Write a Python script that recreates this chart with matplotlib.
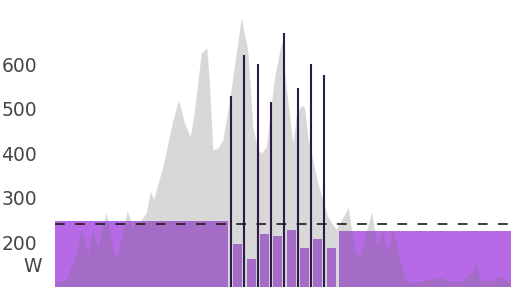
import matplotlib
matplotlib.use("Agg")
import matplotlib.pyplot as plt

plt.rcParams['font.family'] = ['DejaVu Sans']
plt.rcParams['lines.scale_dashes'] = False

# power trace (minutes, watts)
t = [0.00, 1.54, 2.86, 3.51, 4.38, 5.04, 5.70, 6.80, 7.89, 8.29, 9.57, 10.30,
     11.41, 12.07, 12.63, 13.03, 14.25, 15.57, 16.32, 17.11, 17.86, 18.42,
     19.30, 20.04, 20.39, 20.83, 21.49, 22.14, 23.03, 23.91, 24.57, 25.43,
     26.10, 26.75, 27.20, 27.86, 28.29, 28.95, 29.91, 30.49, 31.36, 31.80,
     32.46, 32.89, 33.33, 33.99, 34.64, 35.30, 35.96, 36.41, 37.07, 38.64,
     39.61, 40.26, 41.71, 42.46, 43.25, 43.68, 44.57, 45.30, 46.18, 47.50,
     49.25, 50.57, 51.88, 53.64, 54.96, 55.49, 55.92, 57.14, 58.68, 59.78, 60.00]
watts = [108, 115, 175, 227, 171, 227, 189, 265, 171, 171, 269, 234,
         249, 265, 314, 294, 368, 473, 518, 466, 435, 495,
         623, 636, 556, 406, 410, 428, 518, 623, 701, 630,
         457, 406, 399, 413, 473, 569, 652, 547, 421, 480,
         506, 502, 435, 383, 332, 294, 256, 243, 227, 276,
         171, 171, 267, 189, 227, 175, 227, 166, 111, 108,
         115, 120, 111, 111, 131, 155, 115, 111, 122, 109, 110]

# warm-up and cool-down blocks
warmup = (0.0, 22.76, 248)
cooldown = (37.37, 60.0, 225)

# intervals: start, average, peak
iv_start = [23.16, 24.91, 26.67, 28.42, 30.17, 31.93, 33.68, 35.43]
iv_avg = [196, 161, 219, 214, 228, 186, 206, 187]
iv_peak = [529, 620, 600, 515, 670, 546, 600, 575]

ftp = 240
yticks = [200, 300, 400, 500, 600]

fig = plt.figure(figsize=(5.12, 2.97), dpi=100)
ax = fig.add_axes([55 / 512, 10.5 / 297, 456 / 512, 286.5 / 297])

purple = '#b76ae6'
ax.bar(warmup[0], warmup[2], width=warmup[1] - warmup[0], align='edge',
       color=purple, zorder=1)
ax.bar(cooldown[0], cooldown[2], width=cooldown[1] - cooldown[0], align='edge',
       color=purple, zorder=1)
ax.bar([s + 0.3 for s in iv_start], iv_avg, width=1.18, align='edge',
       color=purple, zorder=1)

ax.fill_between(t, 0, watts, color='#747474', alpha=0.28, linewidth=0, zorder=2)

ax.vlines(iv_start, 0, iv_peak, color='#2e1a47', linewidth=1.5, zorder=3)
ax.axhline(ftp, color='#1a1a1a', linewidth=1.2, dashes=(7, 7.5), zorder=4)

ax.set_xlim(0, 60)
ax.set_ylim(100, 744)
for s in ax.spines.values():
    s.set_visible(False)
ax.set_xticks([])
ax.set_yticks(yticks)
ax.tick_params(axis='y', length=0, pad=13, labelsize=13.5, labelcolor='#454545')
ax.text(-13 / 456 * 60, 146, 'W', ha='right', va='center', fontsize=13.5,
        color='#454545')

fig.savefig('out.png', dpi=100)
